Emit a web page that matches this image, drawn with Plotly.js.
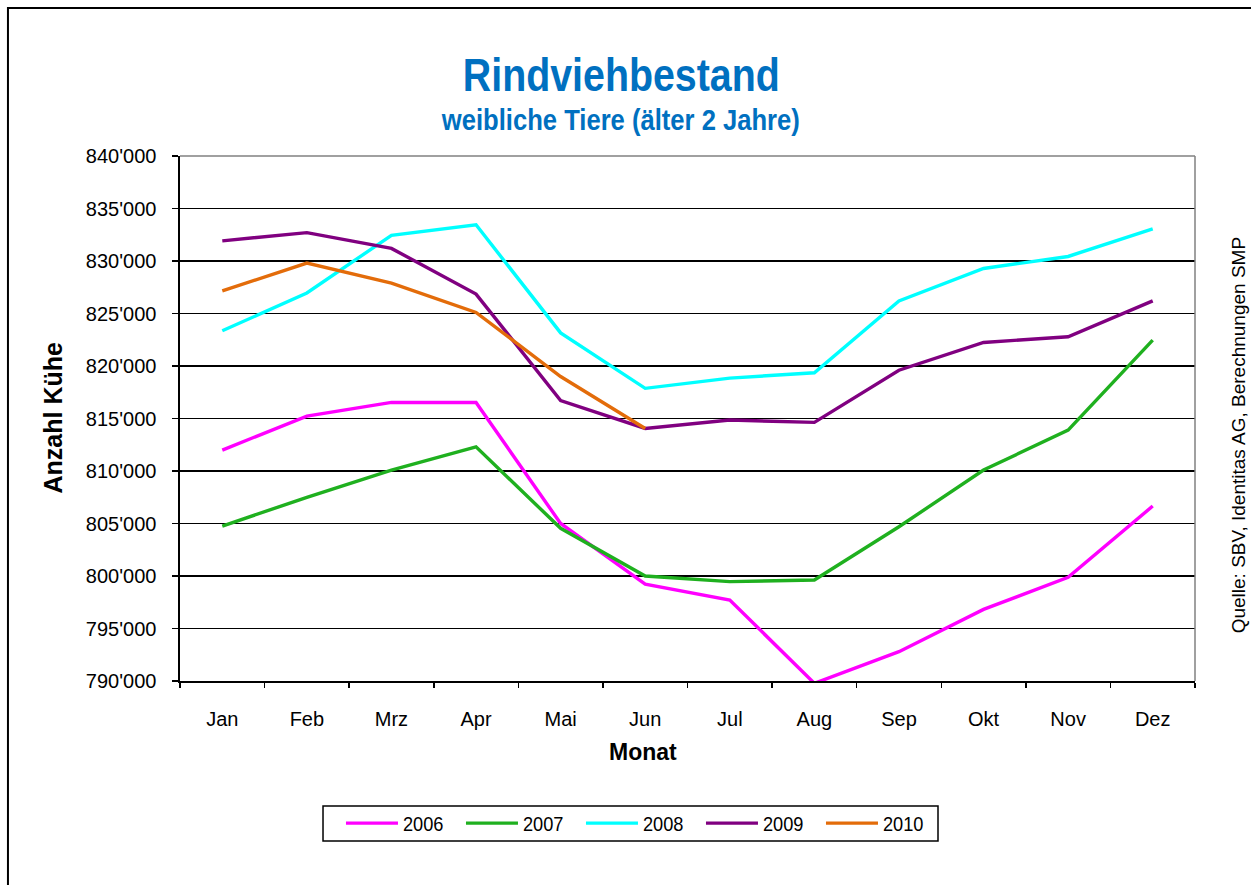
<!DOCTYPE html>
<html>
<head>
<meta charset="utf-8">
<script src="https://cdn.plot.ly/plotly-3.0.1.min.js"></script>
<style>html,body{margin:0;padding:0;background:#fff;}#chart{width:1251px;height:885px;}</style>
</head>
<body>
<div id="chart"></div>
<script>
const months = ['Jan','Feb','Mrz','Apr','Mai','Jun','Jul','Aug','Sep','Okt','Nov','Dez'];
const y2006 = [811990, 815230, 816530, 816530, 805000, 799230, 797710, 789780, 792790, 796820, 799870, 806660];
const y2007 = [804760, 807490, 810090, 812300, 804540, 800000, 799460, 799620, 804690, 810090, 813900, 822460];
const y2008 = [823350, 826950, 832450, 833450, 823150, 817870, 818850, 819350, 826200, 829290, 830430, 833060];
const y2009 = [831920, 832700, 831200, 826850, 816700, 814050, 814850, 814630, 819600, 822240, 822780, 826200];
const y2010 = [827150, 829800, 827900, 825100, 819000, 814050];
const seriesNames = ['2006','2007','2008','2009','2010'];
const seriesColors = ['#FF00FF','#1FB01F','#00FFFF','#800080','#E36C0A'];
const yTickVals = [790000,795000,800000,805000,810000,815000,820000,825000,830000,835000,840000];
const yTickText = ["790'000","795'000","800'000","805'000","810'000","815'000","820'000","825'000","830'000","835'000","840'000"];

const ARIAL = 'Liberation Sans, Arial, sans-serif';

const allY = [y2006, y2007, y2008, y2009, y2010];
const traces = allY.map((ys, i) => ({
  type: 'scatter', mode: 'lines',
  x: months.slice(0, ys.length), y: ys,
  name: seriesNames[i],
  line: {color: seriesColors[i], width: 3.4},
  hoverinfo: 'x+y+name'
}));

const layout = {
  width: 1251, height: 885,
  margin: {l: 180, r: 56, t: 156, b: 204, pad: 0},
  paper_bgcolor: '#fff', plot_bgcolor: '#fff',
  showlegend: true,
  xaxis: {
    type: 'category', range: [-0.5, 11.5],
    tickson: 'boundaries', ticks: 'outside', ticklen: 5, tickcolor: '#000', tickwidth: 1.5,
    showline: true, linecolor: '#000', linewidth: 1.6,
    showgrid: false, zeroline: false,
    tickfont: {family: ARIAL, size: 20, color: '#000'},
    ticklabelstandoff: 19
  },
  yaxis: {
    range: [790000, 840000],
    tickmode: 'array', tickvals: yTickVals, ticktext: yTickText,
    ticks: 'outside', ticklen: 6, tickcolor: '#000', tickwidth: 1.5,
    showline: true, linecolor: '#000', linewidth: 1.6,
    showgrid: true, gridcolor: '#000', gridwidth: 1.6, zeroline: false,
    tickfont: {family: ARIAL, size: 20, color: '#000'},
    ticklabelstandoff: 12
  },
  legend: {
    orientation: 'h', x: 0.1586, xanchor: 'left', y: -0.2713, yanchor: 'middle',
    borderwidth: 0, bgcolor: 'rgba(0,0,0,0)',
    font: {family: ARIAL, size: 21, color: '#000'},
    itemwidth: 52, entrywidth: 53, entrywidthmode: 'pixels', traceorder: 'normal'
  },
  shapes: [
    {type: 'line', xref: 'paper', yref: 'paper', x0: 0, x1: 1, y0: 1, y1: 1, line: {color: '#808080', width: 1.5}},
    {type: 'line', xref: 'paper', yref: 'paper', x0: 1, x1: 1, y0: 0, y1: 1, line: {color: '#808080', width: 1.5}},
    {type: 'rect', xref: 'paper', yref: 'paper', x0: 0.1409, x1: 0.7468, y0: -0.3046, y1: -0.238, line: {color: '#000', width: 1.5}, fillcolor: 'rgba(0,0,0,0)'},
    {type: 'rect', xref: 'paper', yref: 'paper', x0: -0.1695, x1: 1.2, y0: -0.6, y1: 1.282, line: {color: '#000', width: 2}, fillcolor: 'rgba(0,0,0,0)', layer: 'above'}
  ],
  annotations: [
    {text: 'Rindviehbestand', xref: 'paper', yref: 'paper', x: 0.4345, y: 1.1536, xanchor: 'center', yanchor: 'middle', showarrow: false,
     font: {family: ARIAL, size: 46, color: '#0070C0', weight: 'bold'}},
    {text: 'weibliche Tiere (älter 2 Jahre)', xref: 'paper', yref: 'paper', x: 0.4335, y: 1.0689, xanchor: 'center', yanchor: 'middle', showarrow: false,
     font: {family: ARIAL, size: 30, color: '#0070C0', weight: 'bold'}},
    {text: 'Anzahl Kühe', xref: 'paper', yref: 'paper', x: -0.1261, y: 0.5, xanchor: 'center', yanchor: 'middle', textangle: -90, showarrow: false,
     font: {family: ARIAL, size: 25, color: '#000', weight: 'bold'}},
    {text: 'Monat', xref: 'paper', yref: 'paper', x: 0.4559, y: -0.1346, xanchor: 'center', yanchor: 'middle', showarrow: false,
     font: {family: ARIAL, size: 23, color: '#000', weight: 'bold'}},
    {text: 'Quelle: SBV, Identitas AG, Berechnungen SMP', xref: 'paper', yref: 'paper', x: 1.0424, y: 0.468, xanchor: 'center', yanchor: 'middle', textangle: -90, showarrow: false,
     font: {family: ARIAL, size: 19, color: '#000'}}
  ]
};

// condensed look of the original (narrow typeface): compress selected texts
const condensedWidths = {0: 317, 1: 358};
const legendTextWidth = 40.5;

Plotly.newPlot('chart', traces, layout, {displayModeBar: false, staticPlot: true}).then(gd => {
  gd.querySelectorAll('g.annotation').forEach(g => {
    const idx = g.getAttribute('data-index');
    if (condensedWidths[idx] !== undefined) {
      const t = g.querySelector('text.annotation-text');
      if (t) { t.setAttribute('textLength', condensedWidths[idx]); t.setAttribute('lengthAdjust', 'spacingAndGlyphs'); }
    }
  });
  gd.querySelectorAll('text.legendtext').forEach(t => {
    t.setAttribute('textLength', legendTextWidth); t.setAttribute('lengthAdjust', 'spacingAndGlyphs');
  });
});
</script>
</body>
</html>
